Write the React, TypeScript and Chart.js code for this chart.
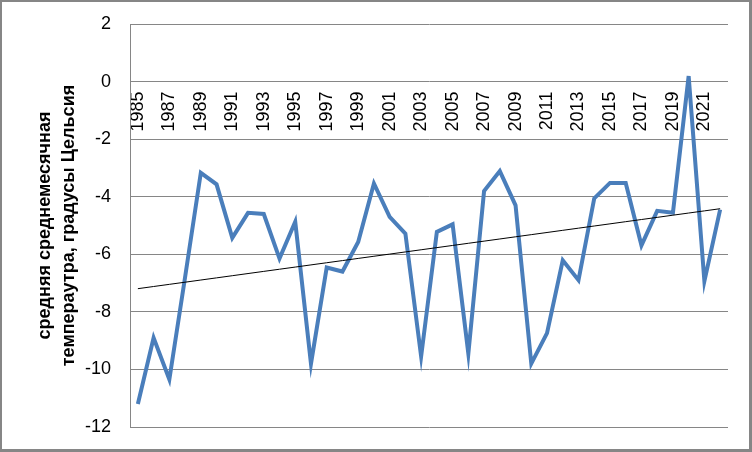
import React, { useEffect, useRef } from "react";
import { Chart, registerables } from "chart.js";

Chart.register(...registerables);

const years: string[] = [
  "1985", "1986", "1987", "1988", "1989", "1990", "1991", "1992", "1993", "1994",
  "1995", "1996", "1997", "1998", "1999", "2000", "2001", "2002", "2003", "2004",
  "2005", "2006", "2007", "2008", "2009", "2010", "2011", "2012", "2013", "2014",
  "2015", "2016", "2017", "2018", "2019", "2020", "2021", "2022",
];

const temperatures: number[] = [
  -11.2, -8.9, -10.35, -6.8, -3.17, -3.57, -5.43, -4.56, -4.6, -6.15,
  -4.87, -9.8, -6.46, -6.6, -5.57, -3.54, -4.7, -5.28, -9.55, -5.22,
  -4.96, -9.45, -3.8, -3.11, -4.3, -9.8, -8.74, -6.21, -6.9, -4.06,
  -3.52, -3.52, -5.69, -4.49, -4.56, 0.19, -6.93, -4.45,
];

const yTitle: string[] = ["средняя среднемесячная", "темпераутра, градусы Цельсия"];
const yMin = -12;
const yMax = 2;
const yStep = 2;

// Linear trend (least squares), as the spreadsheet's trendline
function linearTrend(values: number[]): number[] {
  const n = values.length;
  let sx = 0, sy = 0, sxy = 0, sxx = 0;
  values.forEach((v, i) => {
    const x = i + 1;
    sx += x; sy += v; sxy += x * v; sxx += x * x;
  });
  const slope = (n * sxy - sx * sy) / (n * sxx - sx * sx);
  const intercept = (sy - slope * sx) / n;
  return values.map((_, i) => intercept + slope * (i + 1));
}

const framePlugin = {
  id: "frame",
  afterDraw(chart: any) {
    const ctx = chart.ctx;
    ctx.save();
    ctx.fillStyle = "#868686";
    const w = chart.width, h = chart.height;
    ctx.fillRect(0, 0, w, 2);
    ctx.fillRect(0, 0, 2, h);
    ctx.fillRect(w - 3, 0, 3, h);
    ctx.fillRect(0, h - 3, w, 3);
    ctx.restore();
  },
};

export default function App() {
  const ref = useRef<HTMLCanvasElement | null>(null);

  useEffect(() => {
    if (!ref.current) return;
    const chart = new Chart(ref.current, {
      type: "line",
      data: {
        labels: years,
        datasets: [
          {
            label: "temperature",
            data: temperatures,
            borderColor: "#4A7EBB",
            backgroundColor: "#4A7EBB",
            borderWidth: 4,
            pointRadius: 0,
            tension: 0,
            order: 2,
          },
          {
            label: "trend",
            data: linearTrend(temperatures),
            borderColor: "#000000",
            borderWidth: 1,
            pointRadius: 0,
            tension: 0,
            order: 1,
          },
        ],
      },
      options: {
        responsive: false,
        animation: false,
        devicePixelRatio: 1,
        layout: { padding: { left: 0, top: 24, right: 24, bottom: 25 } },
        plugins: {
          legend: { display: false },
          tooltip: { enabled: false },
        },
        scales: {
          x: {
            type: "category",
            offset: true,
            position: { y: 0 } as any,
            grid: { display: false, drawTicks: false },
            border: { display: false },
            afterFit: (s: any) => { s.height = 0; s.paddingLeft = 0; s.paddingRight = 0; },
            ticks: {
              autoSkip: false,
              maxRotation: 90,
              minRotation: 90,
              padding: 10,
              color: "#000000",
              font: { family: "'Liberation Sans', Arial, sans-serif", size: 18 },
              callback: (_v: any, i: number) => (i % 2 === 0 ? years[i] : ""),
            },
          },
          y: {
            min: yMin,
            max: yMax,
            afterFit: (s: any) => { s.width = 130; s.paddingTop = 0; s.paddingBottom = 0; },
            grid: { color: "#868686", lineWidth: 1, drawTicks: false },
            border: { display: true, color: "#868686", width: 1 },
            ticks: {
              stepSize: yStep,
              padding: 19,
              color: "#000000",
              font: { family: "'Liberation Sans', Arial, sans-serif", size: 18 },
            },
            title: {
              display: true,
              text: yTitle,
              color: "#000000",
              padding: { top: 33, bottom: 0 },
              font: { family: "'Liberation Sans', Arial, sans-serif", size: 18, weight: "bold", lineHeight: 1.33 },
            },
          },
        },
      },
      plugins: [framePlugin],
    });
    return () => chart.destroy();
  }, []);

  return (
    <div style={{ position: "absolute", left: 0, top: 0, width: 752, height: 452, background: "#ffffff" }}>
      <canvas ref={ref} width={752} height={452} style={{ display: "block" }} />
    </div>
  );
}
